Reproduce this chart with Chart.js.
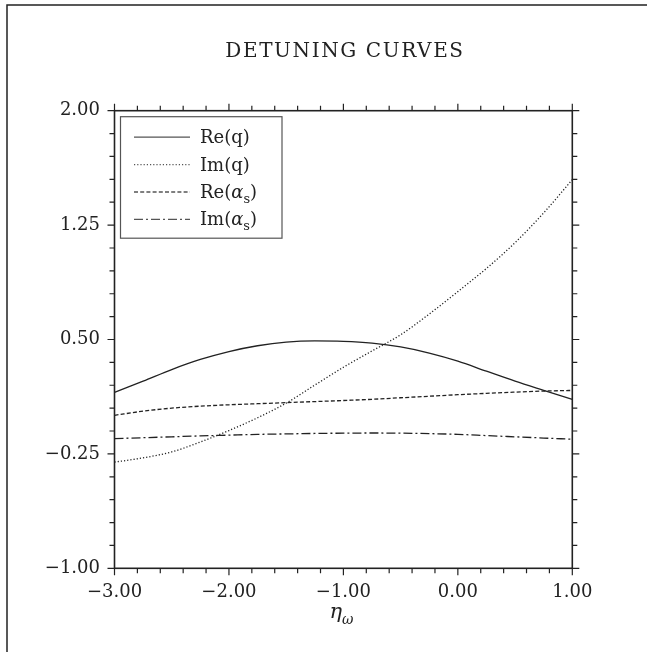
<!DOCTYPE html>
<html>
<head>
<meta charset="utf-8">
<script src="https://cdn.jsdelivr.net/npm/chart.js@4.4.1/dist/chart.umd.min.js"></script>
<style>
  html, body { margin: 0; padding: 0; background: #fff; }
  #wrap { position: relative; width: 647px; height: 652px; }
</style>
</head>
<body>
<div id="wrap"><canvas id="c"></canvas></div>
<script>
// detuning parameter
const etaW = [-3, -2.75, -2.5, -2.25, -2, -1.75, -1.5, -1.25, -1, -0.75, -0.5, -0.25, 0, 0.25, 0.5, 0.75, 1];

// curves
const reQ  = [0.154, 0.227, 0.303, 0.369, 0.421, 0.459, 0.483, 0.491, 0.488, 0.476, 0.451, 0.411, 0.358, 0.292, 0.227, 0.167, 0.108];
const imQ  = [-0.304, -0.276, -0.237, -0.172, -0.097, -0.013, 0.083, 0.201, 0.318, 0.425, 0.531, 0.667, 0.814, 0.966, 1.135, 1.330, 1.548];
const reAs = [0.003, 0.030, 0.050, 0.063, 0.072, 0.079, 0.086, 0.093, 0.100, 0.108, 0.118, 0.128, 0.138, 0.147, 0.155, 0.162, 0.166];
const imAs = [-0.150, -0.144, -0.138, -0.132, -0.127, -0.122, -0.119, -0.116, -0.114, -0.113, -0.114, -0.117, -0.122, -0.130, -0.138, -0.146, -0.154];

// axes
const xTicks = [-3, -2, -1, 0, 1];
const yTicks = [-1, -0.25, 0.5, 1.25, 2];
const xMinor = 0.2;
const yMinor = 0.15;

const INK = '#222';
const SERIF = '"DejaVu Serif", serif';

const series = [
  { name: 'Re', arg: 'q',  sub: '',  data: reQ,  dash: [] },
  { name: 'Im', arg: 'q',  sub: '',  data: imQ,  dash: [1.2, 2] },
  { name: 'Re', arg: 'α', sub: 's', data: reAs, dash: [4, 2.2] },
  { name: 'Im', arg: 'α', sub: 's', data: imAs, dash: [9, 3, 2, 3] }
];

const fmt = v => (v < 0 ? '\u2212' : '') + Math.abs(v).toFixed(2);

const decor = {
  id: 'decor',
  afterDraw(chart) {
    const { ctx, chartArea: a, scales: { x, y } } = chart;
    ctx.save();
    ctx.strokeStyle = INK;
    ctx.fillStyle = INK;

    // page frame (top and left edges)
    ctx.lineWidth = 1.5;
    ctx.beginPath();
    ctx.moveTo(7, 652); ctx.lineTo(7, 5); ctx.lineTo(647, 5);
    ctx.stroke();

    // plot box
    ctx.lineWidth = 1.6;
    ctx.strokeRect(a.left, a.top, a.right - a.left, a.bottom - a.top);

    // ticks on all four sides, pointing outward
    ctx.lineWidth = 1.2;
    ctx.beginPath();
    const nx = Math.round((x.max - x.min) / xMinor);
    for (let i = 0; i <= nx; i++) {
      const v = x.min + i * xMinor;
      const len = Math.abs(v - Math.round(v)) < 1e-6 ? 7 : 5;
      const px = x.getPixelForValue(v);
      ctx.moveTo(px, a.bottom); ctx.lineTo(px, a.bottom + len);
      ctx.moveTo(px, a.top); ctx.lineTo(px, a.top - len);
    }
    const ny = Math.round((y.max - y.min) / yMinor);
    for (let i = 0; i <= ny; i++) {
      const len = i % 5 === 0 ? 7 : 5;
      const py = y.getPixelForValue(y.min + i * yMinor);
      ctx.moveTo(a.left, py); ctx.lineTo(a.left - len, py);
      ctx.moveTo(a.right, py); ctx.lineTo(a.right + len, py);
    }
    ctx.stroke();

    // title
    ctx.font = '20px ' + SERIF;
    ctx.textAlign = 'center';
    ctx.textBaseline = 'middle';
    if ('letterSpacing' in ctx) ctx.letterSpacing = '1.6px';
    ctx.fillText('DETUNING CURVES', 345, 52);
    if ('letterSpacing' in ctx) ctx.letterSpacing = '0px';

    // x axis title: eta with omega subscript
    ctx.textAlign = 'left';
    ctx.textBaseline = 'alphabetic';
    ctx.font = 'italic 21px ' + SERIF;
    const eta = 'η';
    const ew = ctx.measureText(eta).width;
    ctx.font = 'italic 14px ' + SERIF;
    const ow = ctx.measureText('ω').width;
    const cx = (a.left + a.right) / 2 - (ew + ow) / 2 - 2;
    ctx.font = 'italic 21px ' + SERIF;
    ctx.fillText(eta, cx, 618);
    ctx.font = 'italic 14px ' + SERIF;
    ctx.fillText('ω', cx + ew, 624);

    // legend
    const lx = a.left + 6, ly = a.top + 6, lw = 161.5, lh = 121.5;
    ctx.strokeStyle = '#555';
    ctx.lineWidth = 1.2;
    ctx.strokeRect(lx, ly, lw, lh);
    series.forEach((s, i) => {
      const ry = ly + 20.5 + i * 27.4;
      ctx.save();
      ctx.strokeStyle = '#555';
      ctx.lineWidth = 1.3;
      ctx.setLineDash(s.dash);
      ctx.beginPath();
      ctx.moveTo(lx + 13.5, ry); ctx.lineTo(lx + 69.5, ry);
      ctx.stroke();
      ctx.restore();

      let tx = lx + 79.5;
      const base = ry + 6;
      const put = (txt, font, dy) => {
        ctx.font = font;
        ctx.fillText(txt, tx, base + dy);
        tx += ctx.measureText(txt).width;
      };
      put(s.name + '(', '18px ' + SERIF, 0);
      put(s.arg, (s.sub ? 'italic ' : '') + '18px ' + SERIF, 0);
      if (s.sub) put(s.sub, '13px ' + SERIF, 5);
      put(')', '18px ' + SERIF, 0);
    });

    ctx.restore();
  }
};

new Chart(document.getElementById('c'), {
  type: 'line',
  data: {
    labels: etaW,
    datasets: series.map(s => ({
      label: s.name + '(' + s.arg + (s.sub ? '_' + s.sub : '') + ')',
      data: etaW.map((e, i) => ({ x: e, y: s.data[i] })),
      borderColor: INK,
      borderWidth: 1.3,
      borderDash: s.dash,
      pointRadius: 0,
      fill: false,
      cubicInterpolationMode: 'monotone'
    }))
  },
  options: {
    responsive: true,
    maintainAspectRatio: false,
    animation: false,
    devicePixelRatio: 1,
    layout: { padding: { top: 110.7, right: 74.7, bottom: 33.7, left: 0 } },
    plugins: { legend: { display: false }, title: { display: false }, tooltip: { enabled: false } },
    scales: {
      x: {
        type: 'linear',
        min: -3, max: 1,
        grid: { display: false, drawTicks: false },
        border: { display: false },
        afterBuildTicks: sc => { sc.ticks = xTicks.map(v => ({ value: v })); },
        afterFit: sc => { sc.height = 50; },
        ticks: { padding: 13, color: INK, font: { family: SERIF, size: 18 }, maxRotation: 0, callback: v => fmt(v) }
      },
      y: {
        min: -1, max: 2,
        grid: { display: false, drawTicks: false },
        border: { display: false },
        afterBuildTicks: sc => { sc.ticks = yTicks.map(v => ({ value: v })); },
        afterFit: sc => { sc.width = 114.5; },
        ticks: { padding: 14.5, color: INK, font: { family: SERIF, size: 18 }, callback: v => fmt(v) }
      }
    }
  },
  plugins: [decor]
});
</script>
</body>
</html>
